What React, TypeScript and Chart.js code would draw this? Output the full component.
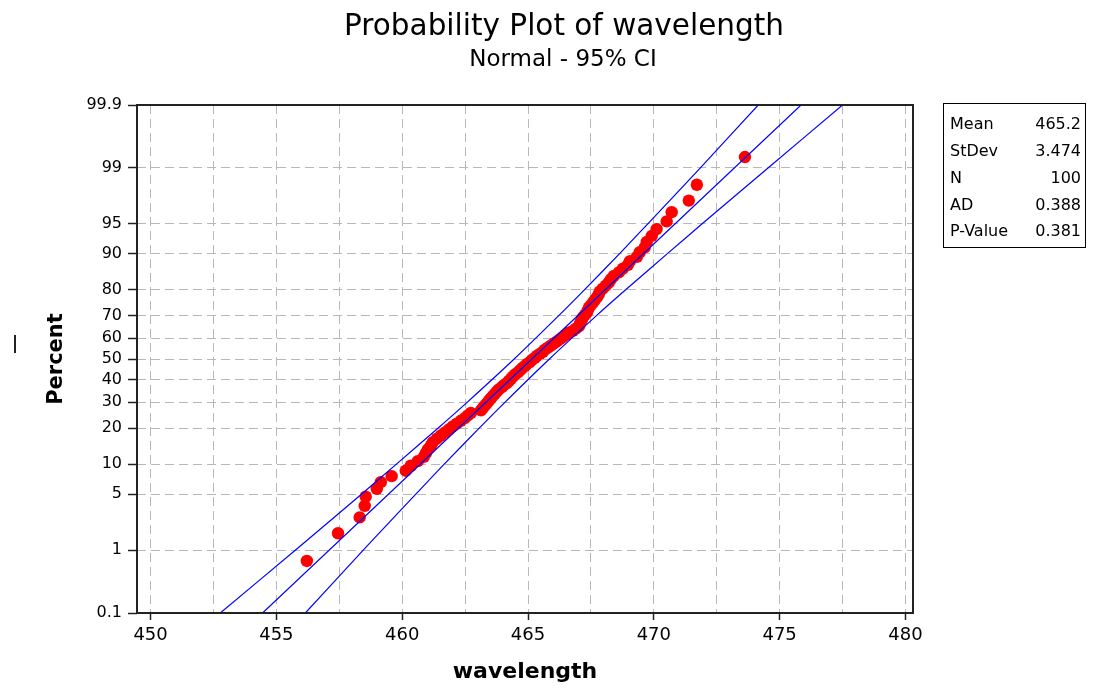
import React, { useEffect, useRef } from "react";
import { Chart, registerables, Scale } from "chart.js";

// ---------------- data ----------------
const TITLE = "Probability Plot of wavelength";
const SUBTITLE = "Normal - 95% CI";
const X_LABEL = "wavelength";
const Y_LABEL = "Percent";

const PERCENT_TICKS = [0.1, 1, 5, 10, 20, 30, 40, 50, 60, 70, 80, 90, 95, 99, 99.9];
const X_GRID = [450, 452.5, 455, 457.5, 460, 462.5, 465, 467.5, 470, 472.5, 475, 477.5, 480];

const WAVELENGTH = [
  456.21, 457.45, 458.31, 458.51, 458.55, 458.99, 459.15, 459.58, 460.14, 460.34,
  460.62, 460.86, 460.94, 461.02, 461.14, 461.22, 461.38, 461.54, 461.70, 461.86,
  462.01, 462.17, 462.33, 462.49, 462.61, 462.73, 463.13, 463.21, 463.29, 463.37,
  463.45, 463.52, 463.60, 463.68, 463.76, 463.84, 463.96, 464.04, 464.16, 464.24,
  464.32, 464.40, 464.48, 464.60, 464.68, 464.76, 464.87, 464.95, 465.07, 465.15,
  465.27, 465.35, 465.47, 465.59, 465.67, 465.79, 465.91, 466.03, 466.15, 466.27,
  466.38, 466.50, 466.62, 466.78, 466.90, 467.02, 467.06, 467.10, 467.14, 467.18,
  467.26, 467.34, 467.38, 467.42, 467.50, 467.58, 467.66, 467.74, 467.81, 467.85,
  467.97, 468.09, 468.21, 468.29, 468.41, 468.61, 468.77, 468.97, 469.05, 469.33,
  469.44, 469.64, 469.72, 469.92, 470.11, 470.51, 470.71, 471.39, 471.71, 473.62,
];

const PERCENT = [
  0.7, 1.7, 2.7, 3.7, 4.7, 5.7, 6.7, 7.7, 8.7, 9.7,
  10.7, 11.7, 12.6, 13.6, 14.6, 15.6, 16.6, 17.6, 18.6, 19.6,
  20.6, 21.6, 22.6, 23.6, 24.6, 25.6, 26.6, 27.6, 28.6, 29.6,
  30.6, 31.6, 32.6, 33.6, 34.6, 35.6, 36.6, 37.5, 38.5, 39.5,
  40.5, 41.5, 42.5, 43.5, 44.5, 45.5, 46.5, 47.5, 48.5, 49.5,
  50.5, 51.5, 52.5, 53.5, 54.5, 55.5, 56.5, 57.5, 58.5, 59.5,
  60.5, 61.5, 62.5, 63.4, 64.4, 65.4, 66.4, 67.4, 68.4, 69.4,
  70.4, 71.4, 72.4, 73.4, 74.4, 75.4, 76.4, 77.4, 78.4, 79.4,
  80.4, 81.4, 82.4, 83.4, 84.4, 85.4, 86.4, 87.4, 88.3, 89.3,
  90.3, 91.3, 92.3, 93.3, 94.3, 95.3, 96.3, 97.3, 98.3, 99.3,
];

const FIT_PERCENT = [0.1, 99.9];
const FIT_X = [454.45, 475.85];

const CI_PERCENT = [0.1, 1, 5, 10, 20, 30, 50, 70, 80, 90, 95, 99, 99.9];
const CI_LOWER = [452.77, 455.75, 458.38, 459.76, 461.42, 462.59, 464.45, 466.21, 467.24, 468.64, 469.76, 471.85, 474.15];
const CI_UPPER = [456.15, 458.45, 460.54, 461.66, 463.06, 464.09, 465.85, 467.71, 468.88, 470.54, 471.92, 474.55, 477.5];

const STAT_LABELS = ["Mean", "StDev", "N", "AD", "P-Value"];
const STAT_VALUES = ["465.2", "3.474", "100", "0.388", "0.381"];

// ---------------- probit scale ----------------
function probit(p: number): number {
  const a = [-3.969683028665376e1, 2.209460984245205e2, -2.759285104469687e2, 1.38357751867269e2, -3.066479806614716e1, 2.506628277459239];
  const b = [-5.447609879822406e1, 1.615858368580409e2, -1.556989798598866e2, 6.680131188771972e1, -1.328068155288572e1];
  const c = [-7.784894002430293e-3, -3.223964580411365e-1, -2.400758277161838, -2.549671479937380, 4.374664141464968, 2.938163982698783];
  const d = [7.784695709041462e-3, 3.224671290700398e-1, 2.445134137142996, 3.754408661907416];
  const pl = 0.02425;
  if (p < pl) {
    const q = Math.sqrt(-2 * Math.log(p));
    return (((((c[0] * q + c[1]) * q + c[2]) * q + c[3]) * q + c[4]) * q + c[5]) / ((((d[0] * q + d[1]) * q + d[2]) * q + d[3]) * q + 1);
  }
  if (p <= 1 - pl) {
    const q = p - 0.5, r = q * q;
    return ((((((a[0] * r + a[1]) * r + a[2]) * r + a[3]) * r + a[4]) * r + a[5]) * q) / (((((b[0] * r + b[1]) * r + b[2]) * r + b[3]) * r + b[4]) * r + 1);
  }
  const q = Math.sqrt(-2 * Math.log(1 - p));
  return -(((((c[0] * q + c[1]) * q + c[2]) * q + c[3]) * q + c[4]) * q + c[5]) / ((((d[0] * q + d[1]) * q + d[2]) * q + d[3]) * q + 1);
}
function normCdf(z: number): number {
  const t = 1 / (1 + 0.2316419 * Math.abs(z));
  const dd = 0.3989423 * Math.exp((-z * z) / 2);
  const pr = dd * t * (0.3193815 + t * (-0.3565638 + t * (1.781478 + t * (-1.821256 + t * 1.330274))));
  return z > 0 ? 1 - pr : pr;
}

class ProbitScale extends (Scale as any) {
  static id = "probit";
  static defaults = { ticks: { callback: (v: any) => String(v) } };
  _zMin = -3;
  _zMax = 3;
  parse(raw: any) {
    return raw === null || raw === undefined ? null : Number(raw);
  }
  determineDataLimits() {
    const { min, max } = this.getUserBounds();
    this.min = min;
    this.max = max;
  }
  buildTicks() {
    return PERCENT_TICKS.map((v) => ({ value: v }));
  }
  getLabelForValue(v: number) {
    return String(v);
  }
  configure() {
    super.configure();
    this._zMin = probit(this.min / 100);
    this._zMax = probit(this.max / 100);
  }
  getPixelForValue(v: number) {
    const z = probit(v / 100);
    return this.getPixelForDecimal((z - this._zMin) / (this._zMax - this._zMin));
  }
  getValueForPixel(px: number) {
    const dec = this.getDecimalForPixel(px);
    return normCdf(this._zMin + dec * (this._zMax - this._zMin)) * 100;
  }
}

Chart.register(...registerables, ProbitScale as any);

const FONT = "'DejaVu Sans', Verdana, sans-serif";

const decorPlugin = {
  id: "decor",
  afterDraw(chart: any) {
    const ctx = chart.ctx as CanvasRenderingContext2D;
    const { left, right, top, bottom } = chart.chartArea;
    ctx.save();
    // frame
    ctx.strokeStyle = "#222";
    ctx.lineWidth = 2;
    ctx.setLineDash([]);
    ctx.strokeRect(left, top, right - left, bottom - top);
    // title
    ctx.fillStyle = "#000";
    ctx.textAlign = "center";
    ctx.textBaseline = "middle";
    ctx.font = `29.5px ${FONT}`;
    ctx.fillText(TITLE, 564, 27);
    ctx.font = `23px ${FONT}`;
    ctx.fillText(SUBTITLE, 563, 60);
    // stats box
    ctx.lineWidth = 1;
    ctx.strokeStyle = "#000";
    ctx.strokeRect(943.5, 103.5, 142, 144);
    ctx.font = `16px ${FONT}`;
    STAT_LABELS.forEach((lab, i) => {
      const y = 125 + i * 26.8;
      ctx.textAlign = "left";
      ctx.fillText(lab, 950, y);
      ctx.textAlign = "right";
      ctx.fillText(STAT_VALUES[i], 1081, y);
    });
    // small mark at left edge
    ctx.fillStyle = "#222";
    ctx.fillRect(14, 335, 2, 18);
    ctx.restore();
  },
};

export default function App() {
  const ref = useRef<HTMLCanvasElement | null>(null);
  useEffect(() => {
    document.body.style.margin = "0";
    const canvas = ref.current;
    if (!canvas) return;
    const pts = WAVELENGTH.map((x, i) => ({ x, y: PERCENT[i] }));
    const fit = FIT_X.map((x, i) => ({ x, y: FIT_PERCENT[i] }));
    const lower = CI_LOWER.map((x, i) => ({ x, y: CI_PERCENT[i] }));
    const upper = CI_UPPER.map((x, i) => ({ x, y: CI_PERCENT[i] }));
    const lineDs = (data: any[]) => ({
      type: "line" as const,
      data,
      showLine: true,
      borderColor: "#0000ff",
      borderWidth: 1.2,
      pointRadius: 0,
      fill: false,
      tension: 0.3,
    });
    const chart = new Chart(canvas, {
      type: "scatter",
      data: {
        datasets: [
          lineDs(fit) as any,
          lineDs(lower) as any,
          lineDs(upper) as any,
          {
            data: pts,
            backgroundColor: "#ff0000",
            borderWidth: 0,
            pointRadius: 6.2,
          },
        ],
      },
      options: {
        responsive: false,
        animation: false,
        layout: { padding: { left: 0, right: 180, top: 105, bottom: 0 } },
        plugins: { legend: { display: false }, tooltip: { enabled: false }, title: { display: false } },
        scales: {
          x: {
            type: "linear",
            min: 449.46,
            max: 480.3,
            afterFit: (s: any) => {
              s.height = 77;
            },
            afterBuildTicks: (s: any) => {
              s.ticks = X_GRID.map((v) => ({ value: v }));
            },
            ticks: {
              autoSkip: false,
              maxRotation: 0,
              padding: 5,
              color: "#000",
              font: { family: FONT, size: 18 },
              callback: (v: any) => (Number(v) % 5 === 0 ? String(v) : ""),
            },
            grid: {
              color: "#b8b8b8",
              lineWidth: 1,
              tickLength: 7,
              tickColor: (c: any) => (c.tick && c.tick.value % 5 === 0 ? "#222" : "rgba(0,0,0,0)"),
              tickWidth: 1.5,
            },
            border: { display: false, dash: [9, 5] },
            title: {
              display: true,
              text: X_LABEL,
              color: "#000",
              font: { family: FONT, size: 22, weight: "bold" },
              padding: { top: 0, bottom: 5 },
            },
          },
          y: {
            type: "probit" as any,
            min: 0.1,
            max: 99.9,
            afterFit: (s: any) => {
              s.width = 137;
            },
            ticks: {
              autoSkip: false,
              padding: 6,
              color: "#000",
              font: { family: FONT, size: 16 },
            },
            grid: {
              color: "#b8b8b8",
              lineWidth: 1,
              tickLength: 9,
              tickColor: "#222",
              tickWidth: 1.5,
            },
            border: { display: false, dash: [9, 5] },
            title: {
              display: true,
              text: Y_LABEL,
              color: "#000",
              font: { family: FONT, size: 21, weight: "bold" },
              padding: { top: 44, bottom: 0 },
            },
          } as any,
        },
      },
      plugins: [decorPlugin],
    } as any);
    return () => chart.destroy();
  }, []);
  return (
    <div style={{ width: 1093, height: 690 }}>
      <canvas ref={ref} width={1093} height={690} />
    </div>
  );
}
